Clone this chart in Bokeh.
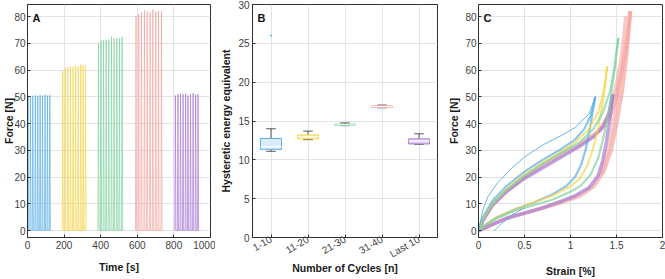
from bokeh.plotting import figure
from bokeh.layouts import row
from bokeh.models import FixedTicker, Range1d, Label, CustomJSTickFormatter
from bokeh.embed import file_html
from bokeh.resources import INLINE

# ---------------- data ----------------
group_names = ["1-10", "11-20", "21-30", "31-40", "Last 10"]
line_colors = ["#5aaee6", "#f5d44a", "#80d3a2", "#f4a49e", "#a87bd4"]
box_fill_colors = ["#d6eaf8", "#faeaa6", "#a8e2c0", "#f9cdc9", "#dccaee"]

# Panel A: cycle start times [s] and peak forces [N]
times_1_10 = [0, 13, 26, 40, 53, 66, 79, 93, 106, 119]
peaks_1_10 = [50.3, 50.2, 50.4, 50.5, 50.3, 50.6, 50.4, 50.7, 50.5, 50.6]
times_11_20 = [190, 204, 218, 232, 246, 260, 274, 288, 301, 314]
peaks_11_20 = [59.5, 60.8, 61.0, 61.3, 61.2, 61.4, 61.3, 62.0, 61.8, 61.6]
times_21_30 = [385, 399, 413, 427, 441, 456, 470, 485, 499, 514]
peaks_21_30 = [70.2, 71.0, 71.2, 71.3, 71.5, 72.5, 71.8, 72.0, 71.8, 72.4]
times_31_40 = [590, 605, 620, 636, 651, 667, 682, 698, 713, 729]
peaks_31_40 = [80.2, 81.0, 81.6, 82.3, 81.8, 81.5, 82.7, 82.0, 82.2, 82.1]
times_last = [805, 819, 833, 847, 861, 874, 888, 902, 916, 929]
peaks_last = [50.5, 51.0, 51.2, 51.0, 51.2, 50.5, 51.0, 51.3, 50.8, 51.0]

# Panel B: box-plot statistics
whisker_low = [11.1, 12.6, 14.4, 16.7, 12.0]
q1 = [11.35, 12.7, 14.45, 16.75, 12.05]
medians = [11.7, 12.95, 14.52, 16.85, 12.45]
q3 = [12.75, 13.2, 14.6, 16.95, 12.7]
whisker_high = [14.0, 13.7, 14.75, 17.05, 13.35]
outlier_group = [1]
outlier_value = [26.0]

# Panel C: hysteresis loops (strain [%], force [N])
load_strain_1_10 = [0, 0.05, 0.15, 0.3, 0.5, 0.7, 0.9, 1.05, 1.15, 1.22, 1.27]
load_force_1_10 = [0, 5, 11, 16.5, 22, 26.5, 30.5, 34, 38, 43, 50]
unload_strain_1_10 = [1.27, 1.22, 1.17, 1.12, 1.05, 0.95, 0.8, 0.6, 0.4, 0.2, 0.05, 0]
unload_force_1_10 = [50, 40, 31, 25, 20, 16.5, 13.5, 10.5, 8, 5, 1.5, 0]

load_strain_11_20 = [0, 0.05, 0.15, 0.3, 0.5, 0.7, 0.9, 1.05, 1.2, 1.3, 1.36, 1.40]
load_force_11_20 = [0, 4.5, 10, 15.5, 21, 25.5, 29.5, 33, 38, 44, 52, 61.5]
unload_strain_11_20 = [1.40, 1.36, 1.3, 1.24, 1.18, 1.1, 1.0, 0.8, 0.6, 0.4, 0.2, 0.05, 0]
unload_force_11_20 = [61.5, 50, 38, 30, 24, 19.5, 16.5, 13, 10.5, 8, 5, 1.5, 0]

load_strain_21_30 = [0, 0.05, 0.15, 0.3, 0.5, 0.7, 0.9, 1.1, 1.25, 1.35, 1.43, 1.48, 1.52]
load_force_21_30 = [0, 4.5, 10, 15, 20.5, 25, 29, 33, 38, 44, 52, 61, 72]
unload_strain_21_30 = [1.52, 1.47, 1.42, 1.36, 1.3, 1.22, 1.12, 1.0, 0.8, 0.6, 0.4, 0.2, 0.05, 0]
unload_force_21_30 = [72, 58, 45, 35, 27, 21, 17, 14.5, 11.5, 9.5, 7.5, 4.5, 1.5, 0]

load_strain_31_40 = [0, 0.05, 0.15, 0.3, 0.5, 0.7, 0.9, 1.1, 1.3, 1.42, 1.5, 1.56, 1.61, 1.65]
load_force_31_40 = [0, 4, 9.5, 14.5, 20, 24.5, 28.5, 32, 37, 42, 50, 60, 70, 82]
unload_strain_31_40 = [1.65, 1.61, 1.56, 1.5, 1.44, 1.36, 1.25, 1.1, 0.9, 0.7, 0.5, 0.3, 0.1, 0]
unload_force_31_40 = [82, 66, 52, 40, 30, 22, 16.5, 13, 10.5, 8.5, 6.5, 4.5, 1.5, 0]
# early pink cycle (band drifts rightwards over cycles 31-40)
early_strain_31_40 = [1.32, 1.42, 1.49, 1.55, 1.59, 1.60, 1.56, 1.51, 1.46, 1.40, 1.33]
early_force_31_40 = [37, 44, 53, 64, 75, 80, 64, 50, 39, 29, 21]

load_strain_last = [0, 0.05, 0.15, 0.3, 0.5, 0.7, 0.9, 1.1, 1.25, 1.36, 1.42, 1.46]
load_force_last = [0, 4, 9.5, 14.5, 19.5, 23.5, 27.5, 31.5, 35, 39, 44, 51]
unload_strain_last = [1.46, 1.43, 1.39, 1.35, 1.3, 1.2, 1.05, 0.9, 0.7, 0.5, 0.3, 0.1, 0]
unload_force_last = [51, 42, 33, 26, 20.5, 16, 13, 11, 8.5, 6.5, 4.5, 1.5, 0]

first_load_strain = [0, 0.05, 0.1, 0.2, 0.35, 0.5, 0.7, 0.9, 1.05, 1.2, 1.27]
first_load_force = [0, 8, 12.5, 17.5, 23, 27.5, 32, 35.5, 38.5, 43.5, 50]
first_unload_strain = [0.5, 0.35, 0.25, 0.17]
first_unload_force = [8.5, 5.5, 2.5, 0]

# ---------------- styling helpers ----------------
FONT = "Liberation Sans"
TICK_COLOR = "#404040"
AXIS_COLOR = "#303030"
FRAME_H = 233


def style_axes(p, xticks, yticks, xlabel, ylabel):
    for ax in p.below + p.left:
        ax.major_label_text_font = FONT
        ax.major_label_text_font_size = "10px"
        ax.major_label_text_color = TICK_COLOR
        ax.axis_label_text_font = FONT
        ax.axis_label_text_font_style = "bold"
        ax.axis_label_text_font_size = "10.5px"
        ax.axis_label_text_color = "#1a1a1a"
        ax.axis_line_color = AXIS_COLOR
        ax.major_tick_line_color = AXIS_COLOR
        ax.major_tick_in = 3
        ax.major_tick_out = 0
        ax.minor_tick_in = 0
        ax.minor_tick_out = 0
        ax.major_label_standoff = 3
    p.below[0].ticker = FixedTicker(ticks=xticks)
    p.left[0].ticker = FixedTicker(ticks=yticks)
    p.below[0].axis_label = xlabel
    p.left[0].axis_label = ylabel
    p.xgrid.ticker = FixedTicker(ticks=xticks)
    p.ygrid.ticker = FixedTicker(ticks=yticks)
    p.grid.grid_line_color = "#e3e3e3"
    p.grid.grid_line_width = 1
    p.outline_line_color = AXIS_COLOR
    p.outline_line_width = 1


def panel_label(p, txt):
    p.add_layout(Label(x=5, y=FRAME_H - 7, x_units="screen", y_units="screen", text=txt,
                       text_font=FONT, text_font_style="bold", text_font_size="11px",
                       text_color="#111111", text_baseline="top"))


def make_fig(width, border_left, border_right, xr, yr):
    p = figure(width=width, height=279, output_backend="svg", toolbar_location=None,
               x_range=xr, y_range=yr, min_border_left=border_left,
               min_border_right=border_right, min_border_top=4, min_border_bottom=42,
               background_fill_color="white", border_fill_color="white")
    return p


fmt = CustomJSTickFormatter(code="return String(tick);")

# ---------------- Panel A ----------------
pA = make_fig(215, 25, 5, Range1d(0, 1000), Range1d(-2.6, 84.5))
groups_A = [(times_1_10, peaks_1_10), (times_11_20, peaks_11_20), (times_21_30, peaks_21_30),
            (times_31_40, peaks_31_40), (times_last, peaks_last)]
for (times, peaks), col in zip(groups_A, line_colors):
    xs, ys = [], []
    for t, pk in zip(times, peaks):
        xs += [t, t + 3, t + 6]
        ys += [0, pk, 0]
    pA.line(xs, ys, line_color=col, line_width=1, line_alpha=0.7)
style_axes(pA, [0, 200, 400, 600, 800, 1000], [0, 10, 20, 30, 40, 50, 60, 70, 80],
           "Time [s]", "Force [N]")
pA.left[0].major_label_standoff = 2
pA.left[0].axis_label_standoff = -4
pA.below[0].axis_label_standoff = 9
panel_label(pA, "A")

# ---------------- Panel B ----------------
pB = make_fig(230, 37, 8, Range1d(0.5, 5.5), Range1d(0, 30))
xpos = [1, 2, 3, 4, 5]
pB.segment(xpos, whisker_low, xpos, q1, line_color="#555555", line_width=1)
pB.segment(xpos, q3, xpos, whisker_high, line_color="#555555", line_width=1)
pB.segment([x - 0.13 for x in xpos], whisker_low, [x + 0.13 for x in xpos], whisker_low,
           line_color="#555555", line_width=1)
pB.segment([x - 0.13 for x in xpos], whisker_high, [x + 0.13 for x in xpos], whisker_high,
           line_color="#555555", line_width=1)
pB.vbar(x=xpos, width=0.57, bottom=q1, top=q3, fill_color=box_fill_colors,
        line_color=line_colors, line_width=1, fill_alpha=0.9)
pB.segment([x - 0.28 for x in xpos], medians, [x + 0.28 for x in xpos], medians,
           line_color="white", line_width=1.2, line_alpha=0.9)
pB.scatter(outlier_group, outlier_value, size=1.5, color=line_colors[0], alpha=0.8)
style_axes(pB, xpos, [0, 5, 10, 15, 20, 25, 30], "Number of Cycles [n]",
           "Hysteretic energy equivalent")
pB.below[0].major_label_overrides = {i + 1: n for i, n in enumerate(group_names)}
pB.below[0].major_label_orientation = 0.52
pB.below[0].major_label_standoff = 1
pB.below[0].axis_label_standoff = -5
pB.left[0].axis_label_standoff = 3
panel_label(pB, "B")

# ---------------- Panel C ----------------
pC = make_fig(220, 32, 3, Range1d(0, 2), Range1d(-2.6, 84.5))
pC.line(early_strain_31_40, early_force_31_40, line_color=line_colors[3], line_width=3.5, line_alpha=0.6)
loops = [(load_strain_31_40, load_force_31_40, unload_strain_31_40, unload_force_31_40, line_colors[3], 4),
         (load_strain_last, load_force_last, unload_strain_last, unload_force_last, line_colors[4], 3.5),
         (load_strain_1_10, load_force_1_10, unload_strain_1_10, unload_force_1_10, line_colors[0], 2.2),
         (load_strain_11_20, load_force_11_20, unload_strain_11_20, unload_force_11_20, line_colors[1], 2),
         (load_strain_21_30, load_force_21_30, unload_strain_21_30, unload_force_21_30, line_colors[2], 2.2)]
for ls, lf, us, uf, col, lw in loops:
    pC.line(ls, lf, line_color=col, line_width=lw, line_alpha=0.7)
    pC.line(us, uf, line_color=col, line_width=lw, line_alpha=0.7)
pC.line(first_load_strain, first_load_force, line_color=line_colors[0], line_width=1, line_alpha=0.9)
pC.line(first_unload_strain, first_unload_force, line_color=line_colors[0], line_width=1, line_alpha=0.9)
style_axes(pC, [0, 0.5, 1, 1.5, 2], [0, 10, 20, 30, 40, 50, 60, 70, 80],
           "Strain [%]", "Force [N]")
pC.below[0].formatter = fmt
pC.below[0].axis_label_standoff = 13
pC.left[0].major_label_standoff = 2
pC.left[0].axis_label_standoff = 2
panel_label(pC, "C")

layout = row(pA, pB, pC, spacing=0)
open("out.html", "w").write(file_html(layout, INLINE))
